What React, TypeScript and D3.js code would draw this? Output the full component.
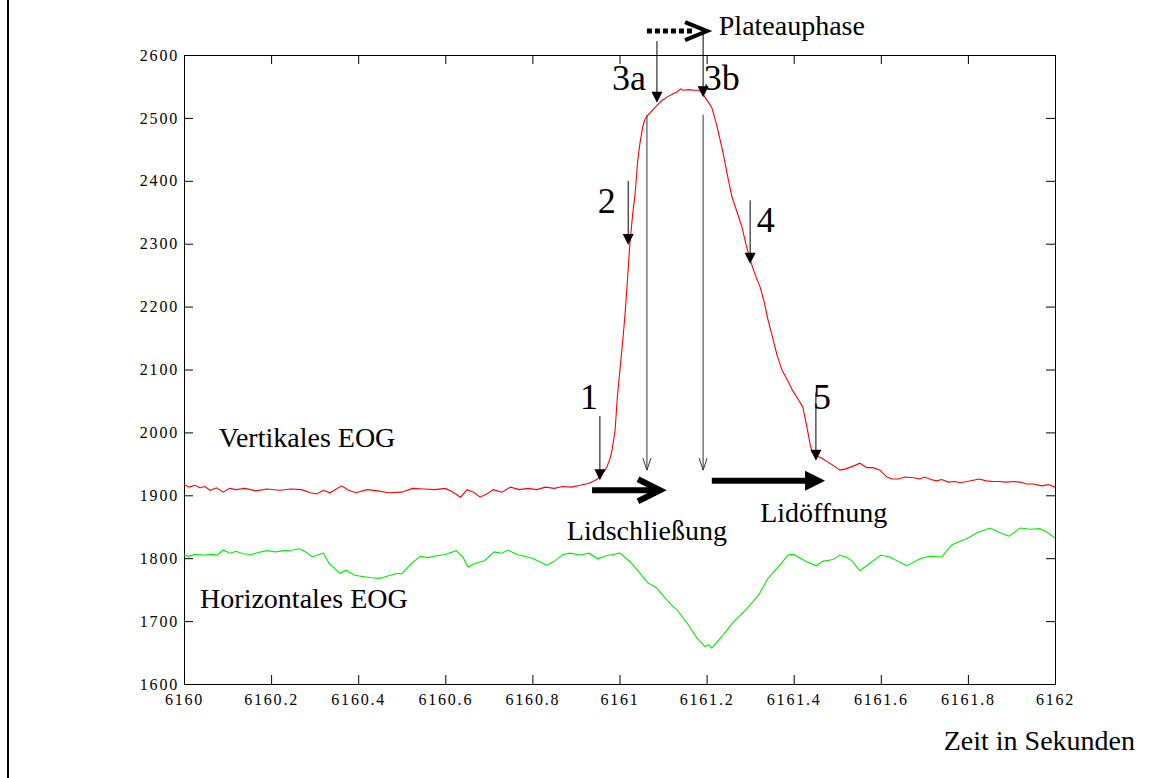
import React, { useEffect, useRef } from 'react';
import * as d3 from 'd3';

// vertical EOG (red) - time in s, value
const vertTime = [
  6160.000, 6160.012, 6160.025, 6160.037, 6160.048, 6160.060, 6160.075, 6160.090, 6160.105, 6160.120,
  6160.140, 6160.165, 6160.190, 6160.220, 6160.245, 6160.270, 6160.290, 6160.305, 6160.320, 6160.335,
  6160.362, 6160.378, 6160.395, 6160.420, 6160.445, 6160.470, 6160.500, 6160.525, 6160.550, 6160.575,
  6160.600, 6160.615, 6160.635, 6160.650, 6160.665, 6160.680, 6160.700, 6160.710, 6160.730, 6160.750,
  6160.770, 6160.790, 6160.810, 6160.830, 6160.850, 6160.870, 6160.890, 6160.910, 6160.930, 6160.945,
  6160.955, 6160.965, 6160.971, 6160.978, 6160.983, 6160.990, 6160.995, 6161.001, 6161.008, 6161.013,
  6161.018, 6161.024, 6161.030, 6161.036, 6161.042, 6161.047, 6161.053, 6161.058, 6161.066, 6161.078,
  6161.086, 6161.098, 6161.109, 6161.122, 6161.132, 6161.140, 6161.146, 6161.160, 6161.172, 6161.182,
  6161.190, 6161.196, 6161.204, 6161.212, 6161.218, 6161.224, 6161.231, 6161.238, 6161.248, 6161.258,
  6161.270, 6161.281, 6161.290, 6161.300, 6161.312, 6161.323, 6161.333, 6161.341, 6161.352, 6161.362,
  6161.373, 6161.385, 6161.398, 6161.410, 6161.421, 6161.427, 6161.433, 6161.438, 6161.442, 6161.452,
  6161.465, 6161.480, 6161.494, 6161.506, 6161.520, 6161.535, 6161.552, 6161.568, 6161.582, 6161.598,
  6161.614, 6161.626, 6161.640, 6161.655, 6161.675, 6161.690, 6161.700, 6161.715, 6161.728, 6161.740,
  6161.755, 6161.770, 6161.782, 6161.798, 6161.812, 6161.826, 6161.842, 6161.858, 6161.872, 6161.888,
  6161.905, 6161.920, 6161.935, 6161.950, 6161.970, 6161.985, 6162.000,
];
const vertValue = [
  1917, 1913, 1916, 1912, 1914, 1908, 1912, 1905, 1911, 1909,
  1911, 1907, 1910, 1908, 1910, 1909, 1904, 1902, 1908, 1904,
  1915, 1908, 1904, 1909, 1907, 1904, 1905, 1911, 1910, 1909,
  1911, 1906, 1897, 1909, 1905, 1897, 1904, 1909, 1905, 1913,
  1909, 1911, 1909, 1913, 1911, 1914, 1913, 1916, 1919, 1924,
  1929, 1938, 1945, 1958, 1972, 2004, 2056, 2099, 2150, 2190,
  2240, 2301, 2345, 2381, 2433, 2460, 2485, 2497, 2505, 2514,
  2520, 2528, 2533, 2538, 2541, 2546, 2544, 2545, 2544, 2544,
  2540, 2533, 2525, 2516, 2502, 2486, 2465, 2444, 2408, 2375,
  2350, 2327, 2300, 2274, 2250, 2231, 2205, 2179, 2150, 2122,
  2099, 2084, 2066, 2053, 2040, 2020, 1999, 1980, 1969, 1963,
  1959, 1952, 1946, 1940, 1942, 1946, 1951, 1944, 1944, 1940,
  1929, 1926, 1926, 1929, 1928, 1926, 1929, 1925, 1923, 1925,
  1921, 1922, 1920, 1922, 1924, 1926, 1923, 1922, 1922, 1921,
  1922, 1921, 1918, 1918, 1915, 1917, 1913,
];

// horizontal EOG (green)
const horizTime = [
  6160.000, 6160.010, 6160.025, 6160.045, 6160.065, 6160.076, 6160.090, 6160.105, 6160.120, 6160.135,
  6160.155, 6160.170, 6160.190, 6160.210, 6160.230, 6160.250, 6160.265, 6160.280, 6160.295, 6160.310,
  6160.320, 6160.333, 6160.358, 6160.372, 6160.392, 6160.410, 6160.430, 6160.450, 6160.470, 6160.490,
  6160.500, 6160.520, 6160.542, 6160.560, 6160.580, 6160.600, 6160.625, 6160.640, 6160.652, 6160.670,
  6160.690, 6160.712, 6160.730, 6160.744, 6160.765, 6160.800, 6160.833, 6160.850, 6160.870, 6160.886,
  6160.909, 6160.930, 6160.950, 6160.970, 6161.001, 6161.025, 6161.045, 6161.063, 6161.085, 6161.103,
  6161.120, 6161.132, 6161.155, 6161.178, 6161.196, 6161.205, 6161.212, 6161.238, 6161.260, 6161.290,
  6161.320, 6161.341, 6161.368, 6161.387, 6161.400, 6161.425, 6161.452, 6161.466, 6161.490, 6161.506,
  6161.520, 6161.535, 6161.552, 6161.575, 6161.600, 6161.620, 6161.660, 6161.690, 6161.713, 6161.740,
  6161.763, 6161.780, 6161.800, 6161.820, 6161.851, 6161.875, 6161.895, 6161.920, 6161.943, 6161.965,
  6161.985, 6162.000,
];
const horizValue = [
  1805, 1803, 1806, 1805, 1806, 1805, 1813, 1808, 1811, 1807,
  1806, 1809, 1812, 1810, 1812, 1813, 1815, 1810, 1802, 1806,
  1808, 1792, 1776, 1781, 1773, 1771, 1769, 1768, 1772, 1776,
  1775, 1790, 1803, 1801, 1804, 1806, 1812, 1802, 1786, 1792,
  1796, 1810, 1808, 1813, 1806, 1800, 1789, 1795, 1806, 1808,
  1805, 1808, 1799, 1804, 1808, 1794, 1778, 1762, 1753, 1738,
  1725, 1718, 1697, 1673, 1660, 1662, 1657, 1678, 1697, 1718,
  1742, 1768, 1789, 1805, 1806, 1796, 1788, 1795, 1798, 1805,
  1802, 1795, 1780, 1792, 1805, 1802, 1788, 1799, 1803, 1802,
  1821, 1826, 1832, 1840, 1848, 1840, 1835, 1848, 1846, 1847,
  1840, 1832,
];

const xTicks = [6160, 6160.2, 6160.4, 6160.6, 6160.8, 6161, 6161.2, 6161.4, 6161.6, 6161.8, 6162];
const yTicks = [1600, 1700, 1800, 1900, 2000, 2100, 2200, 2300, 2400, 2500, 2600];

// numbered phase pointers (data units)
const pointerLabels = ['1', '2', '3a', '3b', '4', '5'];
const pointerTime = [6160.955, 6161.020, 6161.086, 6161.192, 6161.300, 6161.451];
const pointerFrom = [2026, 2400, 2622, 2643, 2369, 2063];
const pointerTo = [1924, 2298, 2524, 2533, 2268, 1955];
const pointerLabelTime = [6160.930, 6160.971, 6161.022, 6161.235, 6161.336, 6161.465];
const pointerLabelValue = [2037, 2349, 2544, 2544, 2319, 2037];

// long thin guide lines
const guideTime = [6161.063, 6161.192];
const guideFrom = 2505;
const guideTo = 1940;

// phase arrows
const closingArrow = { t0: 6160.937, t1: 6161.093, v: 1908 };
const openingArrow = { t0: 6161.212, t1: 6161.472, v: 1923 };
const plateauArrow = { t0: 6161.063, t1: 6161.201, v: 2638 };

const textLabels = ['Vertikales EOG', 'Horizontales EOG', 'Lidschließung', 'Lidöffnung', 'Plateauphase'];
const textTime = [6160.080, 6160.037, 6161.063, 6161.323, 6161.228];
const textValue = [1977, 1721, 1829, 1858, 2632];

const W = 1174;
const H = 778;
const FONT = '"Liberation Serif", "Times New Roman", serif';

export default function App() {
  const ref = useRef<SVGSVGElement>(null);

  useEffect(() => {
    const svg = d3.select(ref.current);
    svg.selectAll('*').remove();

    const margin = { top: 55, right: 119, bottom: 94, left: 184 };
    const x = d3.scaleLinear().domain([6160, 6162]).range([margin.left, W - margin.right]);
    const y = d3.scaleLinear().domain([1600, 2600]).range([H - margin.bottom, margin.top]);

    // frame line on the left of the page
    svg.append('line')
      .attr('x1', 8).attr('x2', 8).attr('y1', 0).attr('y2', H)
      .attr('stroke', '#000').attr('stroke-width', 2);

    // axes box, ticks pointing inward
    const bottom = svg.append('g')
      .attr('transform', `translate(0,${y(1600)})`)
      .call(d3.axisBottom(x).tickValues(xTicks).tickSize(-9).tickSizeOuter(0).tickPadding(10)
        .tickFormat(d => d3.format('')(+d)));
    const left = svg.append('g')
      .attr('transform', `translate(${x(6160)},0)`)
      .call(d3.axisLeft(y).tickValues(yTicks).tickSize(-9).tickSizeOuter(0).tickPadding(5)
        .tickFormat(d3.format('d')));
    svg.append('g')
      .attr('transform', `translate(0,${y(2600)})`)
      .call(d3.axisTop(x).tickValues(xTicks).tickSize(-9).tickSizeOuter(0).tickFormat(() => ''));
    svg.append('g')
      .attr('transform', `translate(${x(6162)},0)`)
      .call(d3.axisRight(y).tickValues(yTicks).tickSize(-9).tickSizeOuter(0).tickFormat(() => ''));

    [bottom, left].forEach((g) => {
      g.attr('font-family', null).attr('font-size', null);
      g.selectAll('text')
        .style('font-family', FONT)
        .style('font-size', '16px')
        .attr('letter-spacing', 1.8)
        .attr('fill', '#000');
    });
    svg.selectAll('.domain').attr('stroke', '#000');
    svg.selectAll('.tick line').attr('stroke', '#000');

    // EOG traces
    const line = d3.line();
    const vertPts = vertTime.map((t, i) => [x(t), y(vertValue[i])] as [number, number]);
    const horizPts = horizTime.map((t, i) => [x(t), y(horizValue[i])] as [number, number]);
    svg.append('path')
      .attr('d', line(horizPts))
      .attr('fill', 'none').attr('stroke', '#00ee00').attr('stroke-width', 1.1);
    svg.append('path')
      .attr('d', line(vertPts))
      .attr('fill', 'none').attr('stroke', '#ff0000').attr('stroke-width', 1.1);

    // long guide lines with open heads
    guideTime.forEach((t) => {
      const gx = x(t);
      const gy = y(guideTo);
      svg.append('line')
        .attr('x1', gx).attr('x2', gx).attr('y1', y(guideFrom)).attr('y2', gy)
        .attr('stroke', '#333').attr('stroke-width', 1);
      svg.append('path')
        .attr('d', `M${gx - 4},${gy - 12}L${gx},${gy}L${gx + 4},${gy - 12}`)
        .attr('fill', 'none').attr('stroke', '#333').attr('stroke-width', 1);
    });

    // numbered pointers
    pointerLabels.forEach((lab, i) => {
      const px = x(pointerTime[i]);
      const tip = y(pointerTo[i]);
      svg.append('line')
        .attr('x1', px).attr('x2', px).attr('y1', y(pointerFrom[i])).attr('y2', tip - 8)
        .attr('stroke', '#000').attr('stroke-width', 1);
      svg.append('path')
        .attr('d', `M${px - 5.5},${tip - 11}L${px + 5.5},${tip - 11}L${px},${tip}Z`)
        .attr('fill', '#000');
      svg.append('text')
        .attr('x', x(pointerLabelTime[i])).attr('y', y(pointerLabelValue[i]))
        .attr('text-anchor', 'middle')
        .attr('font-family', FONT).attr('font-size', 36)
        .text(lab);
    });

    // closing arrow (open chevron head)
    {
      const x0 = x(closingArrow.t0);
      const x1 = x(closingArrow.t1);
      const cy = y(closingArrow.v);
      svg.append('line')
        .attr('x1', x0).attr('x2', x1 - 3).attr('y1', cy).attr('y2', cy)
        .attr('stroke', '#000').attr('stroke-width', 6);
      svg.append('path')
        .attr('d', `M${x1 - 22},${cy - 11}L${x1},${cy}L${x1 - 22},${cy + 11}`)
        .attr('fill', 'none').attr('stroke', '#000').attr('stroke-width', 6)
        .attr('stroke-linejoin', 'miter');
    }
    // opening arrow (filled head)
    {
      const x0 = x(openingArrow.t0);
      const x1 = x(openingArrow.t1);
      const cy = y(openingArrow.v);
      svg.append('line')
        .attr('x1', x0).attr('x2', x1 - 18).attr('y1', cy).attr('y2', cy)
        .attr('stroke', '#000').attr('stroke-width', 6);
      svg.append('path')
        .attr('d', `M${x1 - 20},${cy - 10}L${x1},${cy}L${x1 - 20},${cy + 10}Z`)
        .attr('fill', '#000');
    }
    // plateau arrow (dotted, open head)
    {
      const x0 = x(plateauArrow.t0);
      const x1 = x(plateauArrow.t1);
      const cy = y(plateauArrow.v);
      svg.append('line')
        .attr('x1', x0).attr('x2', x1 - 14).attr('y1', cy).attr('y2', cy)
        .attr('stroke', '#000').attr('stroke-width', 5)
        .attr('stroke-dasharray', '5,3');
      svg.append('path')
        .attr('d', `M${x1 - 22},${cy - 9}L${x1},${cy}L${x1 - 22},${cy + 9}`)
        .attr('fill', 'none').attr('stroke', '#000').attr('stroke-width', 4);
    }

    // text annotations
    textLabels.forEach((lab, i) => {
      svg.append('text')
        .attr('x', x(textTime[i])).attr('y', y(textValue[i]))
        .attr('text-anchor', lab === 'Lidschließung' ? 'middle' : 'start')
        .attr('font-family', FONT).attr('font-size', 28)
        .text(lab);
    });

    // axis title
    svg.append('text')
      .attr('x', 1135).attr('y', 750)
      .attr('text-anchor', 'end')
      .attr('font-family', FONT).attr('font-size', 28)
      .text('Zeit in Sekunden');
  }, []);

  return (
    <div style={{ position: 'absolute', left: 0, top: 0 }}>
      <svg ref={ref} width={W} height={H} style={{ display: 'block', background: '#fff' }} />
    </div>
  );
}
